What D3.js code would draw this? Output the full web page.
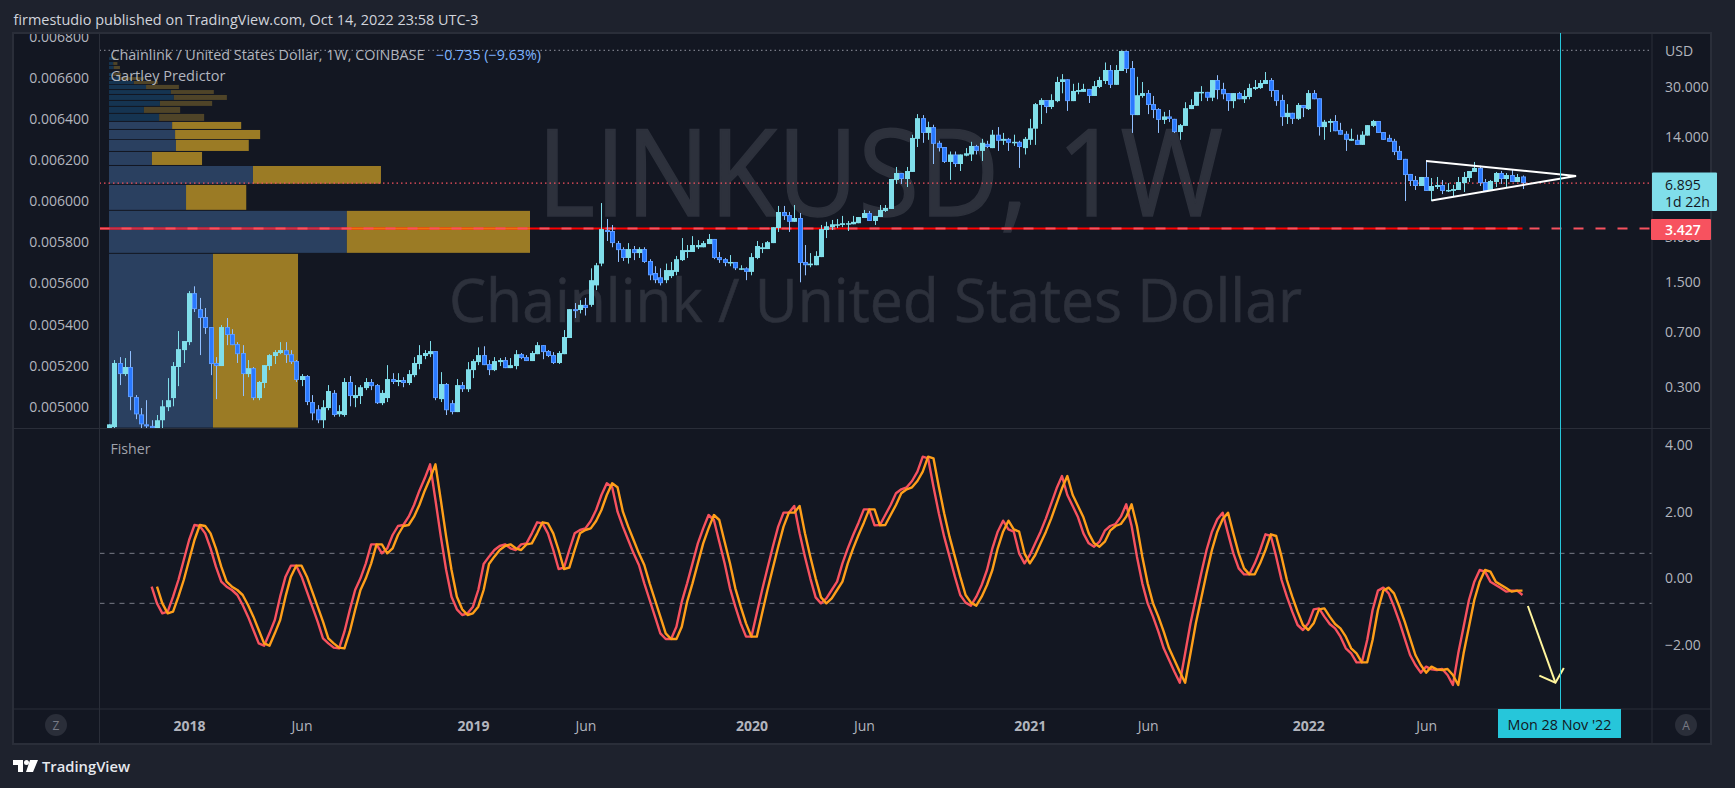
<!DOCTYPE html>
<html><head><meta charset="utf-8">
<script src="https://cdn.jsdelivr.net/npm/d3@7"></script>
<style>html,body{margin:0;padding:0;background:#1e222d;overflow:hidden}text{font-family:"Open Sans","Noto Sans",sans-serif}</style>
</head><body><svg id="c" width="1735" height="788"></svg>
<script>
// weekly candles [open, high, low, close], first bar 18 Sep 2017
const firstWeek = "2017-09-18";
const candles2017 = [[.150,.169,.145,.169],[.162,.454,.159,.434],[.434,.475,.309,.366],[.366,.468,.355,.408],[.408,.521,.21,.257],[.257,.265,.183,.197],[.197,.217,.159,.169],[.169,.245,.159,.165],[.165,.18,.155,.159],[.159,.195,.155,.18],[.18,.245,.155,.223],[.22,.344,.207,.245],[.253,.44,.223,.414],[.408,.709,.304,.537],[.529,.608,.434,.608]];
const candles2018 = [[.598,1.31,.571,1.27],[1.27,1.41,.95,.993],[.993,1.18,.49,.866],[.88,1.01,.678,.743],[.754,.754,.36,.427],[.434,.475,.249,.414],[.414,.777,.414,.754],[.754,.866,.571,.667],[.678,.73,.571,.571],[.58,.598,.434,.497],[.506,.571,.261,.366],[.366,.454,.349,.401],[.401,.408,.245,.253],[.253,.329,.245,.324],[.319,.42,.295,.42],[.414,.497,.389,.49],[.483,.529,.427,.513],[.506,.598,.497,.529],[.529,.598,.434,.49],[.497,.529,.427,.44],[.447,.454,.324,.334],[.334,.366,.304,.355],[.355,.36,.227,.238],[.238,.265,.18,.2],[.213,.227,.172,.18],[.18,.245,.159,.22],[.217,.309,.21,.282],[.274,.286,.19,.195],[.197,.227,.19,.207],[.195,.344,.19,.324],[.324,.355,.223,.261],[.253,.309,.22,.265],[.261,.309,.231,.299],[.295,.344,.286,.324],[.324,.339,.286,.304],[.309,.314,.231,.234],[.234,.286,.227,.274],[.253,.42,.238,.339],[.339,.371,.314,.324],[.324,.371,.304,.334],[.334,.349,.299,.319],[.319,.389,.309,.366],[.36,.475,.349,.434],[.427,.571,.394,.49],[.483,.529,.46,.506],[.497,.608,.475,.521],[.521,.521,.245,.253],[.249,.377,.238,.314],[.314,.319,.195,.21],[.234,.245,.197,.204],[.204,.339,.204,.309],[.309,.324,.278,.29]];
const candles2019 = [[.29,.44,.278,.394],[.389,.46,.344,.447],[.44,.552,.42,.49],[.49,.561,.42,.42],[.427,.454,.36,.389],[.389,.475,.383,.447],[.44,.468,.414,.454],[.454,.475,.401,.401],[.401,.468,.401,.42],[.414,.529,.394,.497],[.497,.506,.46,.468],[.475,.49,.447,.447],[.447,.521,.447,.506],[.497,.598,.497,.571],[.571,.571,.46,.513],[.521,.529,.475,.483],[.49,.513,.427,.434],[.434,.521,.427,.506],[.497,.72,.497,.647],[.637,.993,.637,.993],[.993,1.09,.866,.965],[.98,1.14,.93,1.06],[1.06,1.18,.90,1.01],[1.06,1.86,1.03,1.55],[1.43,2.02,1.33,1.95],[2.0,5.07,1.92,3.4],[3.35,3.97,2.83,3.25],[3.3,3.62,2.57,2.74],[2.74,2.83,2.05,2.46],[2.5,2.57,2.08,2.18],[2.18,2.74,2.0,2.5],[2.5,2.62,2.11,2.35],[2.35,2.57,2.18,2.5],[2.5,2.57,2.02,2.05],[2.08,2.14,1.55,1.67],[1.73,1.92,1.48,1.55],[1.62,1.86,1.43,1.48],[1.55,2.0,1.48,1.81],[1.65,2.05,1.6,1.81],[1.76,2.25,1.67,2.14],[2.11,2.96,2.08,2.46],[2.39,2.66,2.18,2.46],[2.39,3.05,2.39,2.66],[2.57,2.87,2.5,2.66],[2.57,2.83,2.57,2.74],[2.7,3.15,2.7,2.92],[2.92,2.92,2.14,2.18],[2.21,2.39,2.02,2.11],[2.14,2.18,1.92,2.02],[2.02,2.28,1.92,2.05],[2.05,2.05,1.81,1.86],[1.84,1.95,1.81,1.86],[1.86,1.89,1.55,1.76]];
const candles2020 = [[1.76,2.35,1.67,2.21],[2.18,2.83,2.14,2.62],[2.5,2.74,2.35,2.57],[2.5,2.83,2.5,2.78],[2.74,3.5,2.74,3.5],[3.45,4.85,3.25,4.42],[4.42,4.85,3.91,4.15],[4.22,4.42,3.25,3.8],[3.8,4.92,3.8,4.03],[4.03,4.35,1.5,2.02],[2.05,2.66,1.67,1.95],[1.95,2.35,1.89,2.0],[1.95,2.42,1.95,2.25],[2.21,3.62,2.21,3.4],[3.35,3.8,2.96,3.55],[3.5,3.91,3.35,3.66],[3.62,3.97,3.45,3.66],[3.62,4.16,3.5,3.72],[3.66,3.85,3.3,3.72],[3.66,4.16,3.66,3.8],[3.72,4.09,3.72,4.09],[4.03,4.56,4.03,4.35],[4.35,4.49,3.85,3.85],[3.85,4.16,3.62,4.16],[4.09,4.92,4.09,4.56],[4.49,4.92,4.42,4.7],[4.63,7.34,4.63,7.34],[7.23,8.83,6.8,8.05],[8.05,8.05,6.8,7.34],[7.34,8.83,6.49,8.3],[8.18,14.5,8.18,13.8],[13.6,19.9,12,18.7],[18.7,19.6,12.8,14.9],[14.9,17.7,13.4,16.3],[16.3,16.9,9.24,12.6],[12.8,13.2,11.2,11.8],[12,12,9.39,9.54],[9.54,11.2,7.23,10.7],[10.7,11.2,8.83,9.24],[9.24,10.7,8.3,10.7],[10.5,11.8,10.4,10.9],[10.7,13,9.68,12.2],[12.2,12.4,10.7,11.3],[11.3,13.6,9.68,12.8],[12.6,13.2,11.8,12],[11.8,15.6,11.8,14.5],[14.5,16.3,11.3,13.2],[13.2,14.9,12.4,13.6],[13.6,13.8,11.3,12.8],[12.8,14.5,12.2,13],[13,13.2,8.7,12],[11.8,14,10.7,13.6]];
const candles2021 = [[13.4,18.5,12.4,16],[15.9,23.6,12.4,23.2],[22.9,25.4,17.1,24.7],[24.7,24.7,20.2,22.2],[22.2,27,21.5,24.7],[24.3,35.3,23.9,32.6],[32.6,36.8,27.4,34],[34,34,20.9,24.3],[24.3,31.7,24.3,28.4],[28,32.2,27,28.8],[28,31.7,28,29.3],[29.3,29.3,23.6,26.3],[26.3,33.1,26.3,30.6],[30.2,35.3,29.7,33.6],[33.1,44,31.6,39.2],[39.2,42.3,29.7,31.2],[31.2,42.3,31.2,39.2],[38.6,52.5,38.6,52.5],[52.5,52.5,37.4,39.8],[40.4,45,14.9,19.6],[19.6,35.3,19.6,26.6],[26.3,32.6,25.6,27.5],[27.5,28.8,19.9,22.9],[23.2,26.3,18.7,21.2],[21.5,21.8,14.9,18.2],[18.2,20.6,17.1,19.2],[19.2,21.2,17.6,18.5],[18.5,18.5,14.9,15.1],[15.1,17.1,13.4,16.8],[16.6,23.9,16.6,21.8],[21.5,25,21.5,22.9],[22.6,28,22.6,28],[27.5,30.6,24.3,28],[28,28,24.3,25.6],[25.6,33.6,24.3,33.6],[33.6,36.2,25,28.8],[29.3,32.2,25,27],[27.5,27.5,20.9,24.3],[24.3,27.5,21.8,27.5],[27.5,28,25,25],[25,28.8,23.6,26.3],[25.9,31.7,25,29.7],[29.3,33.6,28.8,30.2],[29.7,33.6,29.3,32.1],[31.6,38,31.6,33.6],[33.6,34.6,25.9,28.4],[28.8,28.8,22.6,24.3],[24.7,26.8,16.6,19],[19,23.2,17.1,20.3],[20.3,20.3,17.1,18.5],[18.5,23.6,18.2,22.9],[22.9,22.9,19,21.8]];
const candles2022 = [[21.5,28.8,21.2,27.5],[27.5,28.8,25,25],[25.4,25.4,14.3,16.3],[16.3,18.2,13.4,17.7],[17.4,18.5,15.1,17.9],[17.9,19.6,15.3,15.3],[15.6,17.4,14.5,14.5],[14.7,15.3,11.3,13.4],[13.2,15.9,13.2,13.6],[13.4,14.5,12.4,12.4],[12.4,15.3,12.4,14.5],[14.3,16.8,14.3,16.8],[16.6,18.2,16.3,17.9],[17.9,17.9,14.9,14.9],[15.1,15.1,13.4,13.4],[13.8,14.5,13,13],[13.2,13.6,10.6,11.1],[11.3,12.2,9.83,9.83],[10,10,5.23,7.8],[7.93,7.93,6.59,7.12],[7.23,7.69,6.2,6.59],[6.59,7.57,6.59,7.57],[7.57,9.83,6.11,6.11],[6.11,7.45,5.23,6.59],[6.49,7.57,6.29,6.69],[6.69,7.23,5.82,6.11],[6.11,6.89,6.01,6.2],[6.11,6.69,5.64,6.29],[6.2,7.57,6.2,7.01],[6.89,8.18,6.01,7.57],[7.45,8.3,7.01,8.3],[8.18,9.54,8.18,8.7],[8.7,9,6.59,6.89],[7.01,7.34,6.11,6.11],[6.11,7.23,6.11,7.12],[7.01,8.18,6.49,8.05],[8.05,8.3,6.8,7.34],[7.34,8.05,6.49,7.8],[7.8,8.43,7.01,7.01],[7.01,7.93,7.01,7.57],[7.63,7.75,6.29,6.895]];
// Fisher transform: first value on bar 8 of the weekly series; trigger starts one bar later
const fisherStartBar = 8;
const fisher = [-0.25,-0.75,-1.05,-1.00,-0.55,-0.05,0.55,1.15,1.60,1.57,1.35,0.90,0.35,-0.10,-0.25,-0.35,-0.50,-0.80,-1.15,-1.55,-1.95,-2.02,-1.65,-1.25,-0.55,0.05,0.38,0.38,0.05,-0.40,-0.85,-1.30,-1.80,-1.95,-2.08,-2.10,-1.60,-0.95,-0.35,0,0.45,1.02,1.02,0.75,0.90,1.30,1.57,1.60,1.85,2.20,2.63,3.00,3.42,2.35,1.25,0.25,-0.55,-0.93,-1.10,-1.05,-0.85,-0.35,0.43,0.65,0.85,0.97,1.02,0.90,0.85,1.02,1.05,1.35,1.68,1.65,1.35,0.85,0.28,0.32,0.85,1.35,1.45,1.50,1.72,2.05,2.50,2.85,2.73,2.00,1.55,1.15,0.75,0.40,-0.15,-0.65,-1.15,-1.65,-1.82,-1.82,-1.45,-0.70,-0.15,0.45,1.05,1.50,1.90,1.75,1.10,0.45,-0.30,-0.85,-1.35,-1.75,-1.75,-1.05,-0.35,0.30,0.95,1.55,1.97,1.97,2.17,1.35,0.65,0,-0.57,-0.75,-0.60,-0.35,-0.10,0.45,0.90,1.30,1.67,2.07,2.07,1.59,1.60,1.90,2.20,2.55,2.67,2.73,2.92,3.20,3.65,3.60,2.75,1.95,1.25,0.65,0.05,-0.50,-0.73,-0.82,-0.55,-0.20,0.25,0.90,1.40,1.73,1.47,1.40,0.75,0.45,0.70,1.05,1.40,1.80,2.25,2.70,3.07,2.50,2.17,1.83,1.35,1.05,0.95,1.10,1.43,1.57,1.63,1.85,2.22,1.57,0.65,-0.15,-0.75,-1.15,-1.60,-2.10,-2.45,-2.80,-3.13,-2.25,-1.35,-0.60,0.15,0.85,1.40,1.77,1.97,1.35,0.75,0.30,0.12,0.12,0.45,0.85,1.32,1.27,0.65,-0.05,-0.55,-1.00,-1.40,-1.55,-1.35,-0.93,-0.90,-1.15,-1.37,-1.50,-1.75,-2.10,-2.25,-2.52,-2.52,-1.85,-0.95,-0.37,-0.28,-0.45,-0.85,-1.30,-1.80,-2.30,-2.60,-2.83,-2.65,-2.73,-2.75,-2.72,-2.90,-3.20,-2.25,-1.45,-0.65,-0.10,0.25,0.20,-0.10,-0.20,-0.30,-0.40,-0.37,-0.37,-0.50];
const trigger = [-0.25,-0.75,-1.05,-1.00,-0.55,-0.05,0.55,1.15,1.60,1.57,1.35,0.90,0.35,-0.10,-0.25,-0.35,-0.50,-0.80,-1.15,-1.55,-1.95,-2.02,-1.65,-1.25,-0.55,0.05,0.38,0.38,0.05,-0.40,-0.85,-1.30,-1.80,-1.95,-2.08,-2.10,-1.60,-0.95,-0.35,0,0.45,1.02,1.02,0.75,0.90,1.30,1.57,1.60,1.85,2.20,2.63,3.00,3.42,2.35,1.25,0.25,-0.55,-0.93,-1.10,-1.05,-0.85,-0.35,0.43,0.65,0.85,0.97,1.02,0.90,0.85,1.02,1.05,1.35,1.68,1.65,1.35,0.85,0.28,0.32,0.85,1.35,1.45,1.50,1.72,2.05,2.50,2.85,2.73,2.00,1.55,1.15,0.75,0.40,-0.15,-0.65,-1.15,-1.65,-1.82,-1.82,-1.45,-0.70,-0.15,0.45,1.05,1.50,1.90,1.75,1.10,0.45,-0.30,-0.85,-1.35,-1.75,-1.75,-1.05,-0.35,0.30,0.95,1.55,1.97,1.97,2.17,1.35,0.65,0,-0.57,-0.75,-0.60,-0.35,-0.10,0.45,0.90,1.30,1.67,2.07,2.07,1.59,1.60,1.90,2.20,2.55,2.67,2.73,2.92,3.20,3.65,3.60,2.75,1.95,1.25,0.65,0.05,-0.50,-0.73,-0.82,-0.55,-0.20,0.25,0.90,1.40,1.73,1.47,1.40,0.75,0.45,0.70,1.05,1.40,1.80,2.25,2.70,3.07,2.50,2.17,1.83,1.35,1.05,0.95,1.10,1.43,1.57,1.63,1.85,2.22,1.57,0.65,-0.15,-0.75,-1.15,-1.60,-2.10,-2.45,-2.80,-3.13,-2.25,-1.35,-0.60,0.15,0.85,1.40,1.77,1.97,1.35,0.75,0.30,0.12,0.12,0.45,0.85,1.32,1.27,0.65,-0.05,-0.55,-1.00,-1.40,-1.55,-1.35,-0.93,-0.90,-1.15,-1.37,-1.50,-1.75,-2.10,-2.25,-2.52,-2.52,-1.85,-0.95,-0.37,-0.28,-0.45,-0.85,-1.30,-1.80,-2.30,-2.60,-2.83,-2.65,-2.73,-2.75,-2.72,-2.90,-3.20,-2.25,-1.45,-0.65,-0.10,0.25,0.20,-0.10,-0.20,-0.30,-0.40,-0.37,-0.37];
// volume profile rows, low to high on the left-hand scale
const profileLow  = [.004900,.005749,.005958,.006085,.006176,.006244,.006302,.006351,.006390,.006429,.006463,.006492,.006521,.006545,.006569,.006589,.006608,.006642,.006662,.006686];
const profileHigh = [.005744,.005953,.006079,.006171,.006239,.006298,.006346,.006385,.006424,.006458,.006487,.006516,.006540,.006565,.006584,.006603,.006623,.006657,.006676,.006700];
const profileBuy  = [24.7,56.5,18.3,34.2,10.2,15.9,15.7,15.0,11.9,8.3,12.1,15.4,14.7,8.8,5.9,2.6,1.2,1.1,1.0,0.9];
const profileSell = [20.2,43.5,14.3,30.4,11.9,17.3,20.2,16.4,10.7,8.6,12.4,12.6,10.2,7.8,5.7,5.7,1.7,1.5,1.0,0.7];
const profileFadeAbove = 0.00639;
// axes
const priceTicks = [30,14,3,1.5,0.7,0.3];
const leftTicks = [.0050,.0052,.0054,.0056,.0058,.0060,.0062,.0064,.0066,.0068];
const fisherTicks = [4,2,0,-2];
const fisherLevels = [0.75,-0.75];
const yearTicks = ["2018-01-01","2019-01-07","2020-01-06","2021-01-04","2022-01-03"];
const monthTicks = ["2018-05-28","2019-06-03","2020-06-01","2021-06-07","2022-06-06"];
// price lines and drawings
const highPrice = 53, lastPrice = 6.895, supportPrice = 3.427;
const triangleDates = ["2022-06-06","2022-12-19","2022-06-13"];
const trianglePrices = [9.68,7.69,5.27];
const arrowStemDates = ["2022-10-17","2022-11-22"], arrowStemValues = [-0.83,-3.13];
const arrowHeadDates = ["2022-11-01","2022-11-22","2022-12-03"], arrowHeadValues = [-2.92,-3.13,-2.69];
const cursorDate = "2022-11-28";

const C = {bg:"#131722",page:"#1e222d",line:"#2a2e39",txt:"#b2b5be",up:"#80deea",down:"#2979ff",downEdge:"#5c9bff",wickDown:"#90bfff",
  blue:"#2a4060",gold:"#9b7b25",blueDim:"#153451",goldDim:"#4f4428",red:"#ff0000",salmon:"#f7525f",orange:"#ff9f1a",cyan:"#26c6da",mark:"#2d313c",arrow:"#fff59d"};
const L={l:13,r:1711,t:33,b:744,ax:99.5,ay:1652,split:428.5,time:709};
const svg=d3.select("#c");
const D=s=>new Date(s+"T00:00:00Z");
const candles=[...candles2017,...candles2018,...candles2019,...candles2020,...candles2021,...candles2022];
const barDate=i=>d3.utcDay.offset(D(firstWeek),7*i);
const x=d3.scaleUtc().domain([D(firstWeek),D(cursorDate)]).range([108.8,1560]);
const y=d3.scaleLog().domain([30,0.3]).range([87.4,387]);
const yLeft=d3.scaleLinear().domain([.0066,.0050]).range([77.7,407]);
const yF=d3.scaleLinear().domain([4,-2]).range([445,645]);
const vol=d3.scaleLinear().domain([0,100]).range([109,530]);

const defs=svg.append("defs");
defs.append("clipPath").attr("id","mainClip").append("rect").attr("x",L.ax).attr("y",L.t+1).attr("width",L.ay-L.ax).attr("height",L.split-L.t-1);
defs.append("clipPath").attr("id","subClip").append("rect").attr("x",L.ax).attr("y",L.split).attr("width",L.ay-L.ax).attr("height",L.time-L.split);
defs.append("clipPath").attr("id","leftClip").append("rect").attr("x",L.l).attr("y",L.t+1).attr("width",L.ax-L.l).attr("height",L.split-L.t-1);

svg.append("rect").attr("width",1735).attr("height",788).attr("fill",C.page);
svg.append("rect").attr("x",L.l).attr("y",L.t).attr("width",L.r-L.l).attr("height",L.b-L.t).attr("fill",C.bg).attr("stroke",C.line).attr("stroke-width",2);

function label(g,t,xx,yy,o={}){return g.append("text").attr("x",xx).attr("y",yy).attr("dominant-baseline","central").attr("fill",o.fill||C.txt).attr("font-size",o.size||14).attr("font-weight",o.weight||400).attr("text-anchor",o.anchor||"start").attr("textLength",o.len||null).attr("lengthAdjust",o.len?"spacingAndGlyphs":null).text(t);}

const main=svg.append("g").attr("clip-path","url(#mainClip)");
// watermarks
main.append("text").attr("x",537).attr("y",216).attr("fill",C.mark).attr("stroke",C.mark).attr("stroke-width",1.5).attr("font-size",120).attr("textLength",686).attr("lengthAdjust","spacingAndGlyphs").text("LINKUSD, 1W");
main.append("text").attr("x",449).attr("y",322).attr("fill",C.mark).attr("stroke",C.mark).attr("stroke-width",.6).attr("font-size",60).attr("textLength",853).attr("lengthAdjust","spacingAndGlyphs").text("Chainlink / United States Dollar");
// volume profile
const rows=d3.range(profileLow.length);
main.append("g").selectAll("rect").data(rows).join("rect")
 .attr("x",vol(0)).attr("width",i=>vol(profileBuy[i])-vol(0)).attr("y",i=>yLeft(profileHigh[i])).attr("height",i=>yLeft(profileLow[i])-yLeft(profileHigh[i]))
 .attr("fill",i=>profileLow[i]>=profileFadeAbove?C.blueDim:C.blue);
main.append("g").selectAll("rect").data(rows).join("rect")
 .attr("x",i=>vol(profileBuy[i])).attr("width",i=>vol(profileSell[i])-vol(0)).attr("y",i=>yLeft(profileHigh[i])).attr("height",i=>yLeft(profileLow[i])-yLeft(profileHigh[i]))
 .attr("fill",i=>profileLow[i]>=profileFadeAbove?C.goldDim:C.gold);
// price lines
const hl=(g,v,col,dash,w,x1=L.ax,x2=L.ay)=>g.append("line").attr("x1",x1).attr("x2",x2).attr("y1",y(v)).attr("y2",y(v)).attr("stroke",col).attr("stroke-width",w).attr("stroke-dasharray",dash);
hl(main,highPrice,"#787b86","1.5 3",1.2);
hl(main,lastPrice,C.salmon,"1.5 3",1.2);
const lastX=x(barDate(candles.length-1));
hl(main,supportPrice,C.red,null,2,L.ax,lastX);
hl(main,supportPrice,"#c8304a",null,2,vol(0),vol(profileBuy[1]));
hl(main,supportPrice,"#f0700e",null,2,vol(profileBuy[1]),vol(profileBuy[1]+profileSell[1]));
hl(main,supportPrice,C.salmon,"10 12",2);
// candles
const bars=main.append("g").selectAll("g").data(candles).join("g");
bars.append("line").attr("x1",(d,i)=>Math.round(x(barDate(i)))+.5).attr("x2",(d,i)=>Math.round(x(barDate(i)))+.5)
 .attr("y1",d=>y(d[1])).attr("y2",d=>y(d[2])).attr("stroke",d=>d[3]>=d[0]?C.up:C.wickDown).attr("stroke-width",1);
bars.append("rect").each(function(d,i){
  const up=d[3]>=d[0],top=y(Math.max(d[0],d[3])),bot=y(Math.min(d[0],d[3])),cx=Math.round(x(barDate(i)))+.5;
  d3.select(this).attr("x",up?cx-2.5:cx-2).attr("width",up?5:4).attr("y",top+(up?0:.5)).attr("height",Math.max(up?1.5:1,bot-top-(up?0:1)))
   .attr("fill",up?C.up:C.down).attr("stroke",up?"none":C.downEdge).attr("stroke-width",1);
});
// triangle
main.append("path").datum(d3.zip(triangleDates,trianglePrices)).attr("fill","none").attr("stroke","#fff").attr("stroke-width",2)
 .attr("d",d3.line().x(d=>x(D(d[0]))).y(d=>y(d[1])));
// axis text
const ax=(g,a)=>{g.call(a);g.select(".domain").remove();g.selectAll("line").remove();g.selectAll("text").attr("fill",C.txt).attr("font-size",14).attr("font-family",'"Open Sans","Noto Sans",sans-serif');};
svg.append("g").attr("clip-path","url(#leftClip)").append("g").attr("transform","translate(89,0)")
 .call(g=>ax(g,d3.axisLeft(yLeft).tickValues(leftTicks).tickFormat(d3.format(".6f")).tickSize(0).tickPadding(0)));
svg.append("g").attr("transform",`translate(${L.ay+13},0)`).call(g=>ax(g,d3.axisRight(y).tickValues(priceTicks).tickFormat(d3.format(".3f")).tickSize(0).tickPadding(0)));
svg.append("g").attr("transform",`translate(${L.ay+13},0)`).call(g=>ax(g,d3.axisRight(yF).tickValues(fisherTicks).tickFormat(d3.format(".2f")).tickSize(0).tickPadding(0)));
label(svg,"USD",1665,50);
// fisher pane
const sub=svg.append("g").attr("clip-path","url(#subClip)");
fisherLevels.forEach(v=>sub.append("line").attr("x1",L.ax).attr("x2",L.ay).attr("y1",yF(v)).attr("y2",yF(v)).attr("stroke","#787b86").attr("stroke-width",1).attr("stroke-dasharray","5 5"));
const fl=(vals,start,col)=>sub.append("path").datum(vals).attr("fill","none").attr("stroke",col).attr("stroke-width",2.4).attr("stroke-linejoin","round")
 .attr("d",d3.line().x((d,i)=>x(barDate(start+i))).y(d=>yF(d)));
fl(fisher,fisherStartBar,C.salmon);
fl(trigger,fisherStartBar+1,C.orange);
const al=d3.line().x(d=>x(D(d[0]))).y(d=>yF(d[1]));
sub.append("path").datum(d3.zip(arrowStemDates,arrowStemValues)).attr("d",al).attr("fill","none").attr("stroke",C.arrow).attr("stroke-width",2);
sub.append("path").datum(d3.zip(arrowHeadDates,arrowHeadValues)).attr("d",al).attr("fill","none").attr("stroke",C.arrow).attr("stroke-width",2);
// frame lines
[[L.ax,L.t,L.ax,L.b],[L.ay,L.t,L.ay,L.b],[L.l,L.split,L.r,L.split],[L.l,L.time,L.r,L.time]].forEach(a=>
 svg.append("line").attr("x1",a[0]).attr("y1",a[1]).attr("x2",a[2]).attr("y2",a[3]).attr("stroke",C.line).attr("stroke-width",1));
// cursor
svg.append("line").attr("x1",Math.round(x(D(cursorDate)))+.5).attr("x2",Math.round(x(D(cursorDate)))+.5).attr("y1",L.t).attr("y2",L.time).attr("stroke",C.cyan).attr("stroke-width",1);
// time axis
const tx=svg.append("g").attr("transform",`translate(0,725)`);
const timeAxis=(vals,fmt,weight)=>{const g=tx.append("g");g.call(d3.axisBottom(x).tickValues(vals.map(D)).tickFormat(fmt).tickSize(0).tickPadding(0));g.select(".domain").remove();g.selectAll("line").remove();
 g.selectAll("text").attr("y",0).attr("dy",null).attr("dominant-baseline","central").attr("fill",C.txt).attr("font-size",14).attr("font-weight",weight).attr("font-family",'"Open Sans","Noto Sans",sans-serif');};
timeAxis(yearTicks,d3.utcFormat("%Y"),700);
timeAxis(monthTicks,d=>d3.utcFormat("%b")(d3.utcDay.offset(d,6)),400);
// labels boxes
svg.append("rect").attr("x",1652).attr("y",172.5).attr("width",65).attr("height",38.5).attr("fill",C.up).attr("rx",1);
label(svg,d3.format(".3f")(lastPrice),1665,184,{fill:C.bg});
label(svg,"1d 22h",1665,201,{fill:C.bg});
svg.append("rect").attr("x",1651).attr("y",219).attr("width",60).attr("height",21).attr("fill",C.salmon).attr("rx",1);
label(svg,d3.format(".3f")(supportPrice),1665,229.5,{fill:"#fff",weight:600});
svg.append("rect").attr("x",x(D(cursorDate))-62).attr("y",709).attr("width",123).attr("height",29).attr("fill",C.cyan);
label(svg,"Mon 28 Nov '22",x(D(cursorDate))-.5,724,{fill:C.bg,anchor:"middle",len:104});
// headers
label(svg,"firmestudio published on TradingView.com, Oct 14, 2022 23:58 UTC-3",13.5,19,{fill:"#d1d4dc",size:15,len:465});
label(svg,"Chainlink / United States Dollar, 1W, COINBASE",110.5,54,{size:14,len:314});
label(svg,"−0.735 (−9.63%)",436,54,{fill:"#7eb4ff",size:14,len:105});
label(svg,"Gartley Predictor",110.5,75,{size:14,len:115});
label(svg,"Fisher",110.5,448,{size:14,fill:"#a0a3ad",len:40});
// round buttons
[[56,"Z"],[1686,"A"]].forEach(a=>{svg.append("circle").attr("cx",a[0]).attr("cy",725).attr("r",11).attr("fill","#2a2e39");
 label(svg,a[1],a[0],725,{anchor:"middle",size:12,fill:"#787b86"});});
// footer logo
const lg=svg.append("g").attr("fill","#ffffff");
lg.append("path").attr("d","M13 760h10v12h-5v-7h-5z");
lg.append("circle").attr("cx",26.5).attr("cy",762.5).attr("r",2.5);
lg.append("path").attr("d","M30 760h8l-5 12h-7z");
label(svg,"TradingView",42,766,{fill:"#e6e8ee",size:15,weight:600,len:88});
</script></body></html>
